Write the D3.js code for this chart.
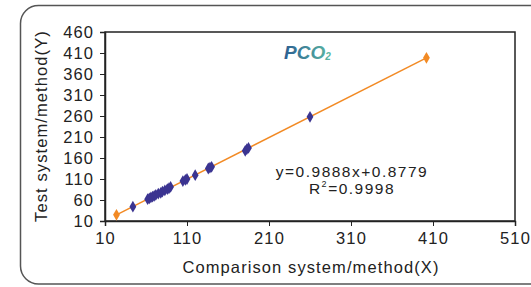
<!DOCTYPE html>
<html>
<head>
<meta charset="utf-8">
<script src="https://cdn.jsdelivr.net/npm/d3@7"></script>
<style>
  html, body { margin: 0; padding: 0; background: #fff; }
  svg { display: block; font-family: "Liberation Sans", Arial, sans-serif; }
</style>
</head>
<body>
<div id="chart"></div>
<script>
// data
const xValues = [44, 62, 64, 66, 68, 70, 72, 75, 78, 80, 83, 86, 88, 90, 105, 108, 110, 120, 136, 138, 140, 181, 183, 185, 260];
const yValues = [44, 62, 64, 66, 68, 70, 72, 75, 77, 80, 83, 86, 88, 91, 105, 108, 110, 119, 135, 137, 139, 177, 181, 184, 258];
const fitX = [24, 402];
const fitY = [24.6, 398.4];
const tickValues = [10, 110, 210, 310, 410, 510];
const yTickValues = [10, 60, 110, 160, 210, 260, 310, 360, 410, 460];

const width = 531, height = 287;
const plotLeft = 105, plotRight = 515, plotTop = 32, plotBottom = 221;
const fontSize = 16.5, spacing = "1.1px";

const svg = d3.select("#chart").append("svg")
  .attr("width", width)
  .attr("height", height);

// outer rounded panel
svg.append("rect")
  .attr("x", 20.5).attr("y", 5.5)
  .attr("width", 560).attr("height", 278.5)
  .attr("rx", 18)
  .attr("fill", "none")
  .attr("stroke", "#555")
  .attr("stroke-width", 1.5);

const x = d3.scaleLinear().domain([10, 510]).range([plotLeft, plotRight]);
const y = d3.scaleLinear().domain([10, 460]).range([plotBottom, plotTop]);

// frame
svg.append("rect")
  .attr("x", plotLeft).attr("y", plotTop)
  .attr("width", plotRight - plotLeft).attr("height", plotBottom - plotTop)
  .attr("fill", "none")
  .attr("stroke", "#222")
  .attr("stroke-width", 1.5);

const xAxis = svg.append("g")
  .attr("transform", `translate(0,${plotBottom})`)
  .call(d3.axisBottom(x).tickValues(tickValues).tickSize(5).tickPadding(6));
const yAxis = svg.append("g")
  .attr("transform", `translate(${plotLeft},0)`)
  .call(d3.axisLeft(y).tickValues(yTickValues).tickSize(5).tickPadding(6));

[xAxis, yAxis].forEach(g => {
  g.select(".domain").attr("stroke", "#222").attr("stroke-width", 1.5);
  g.selectAll(".tick line").attr("stroke", "#222");
  g.selectAll("text").attr("font-size", fontSize).attr("fill", "#222")
    .attr("letter-spacing", spacing)
    .attr("font-family", "'Liberation Sans', Arial, sans-serif");
});
yAxis.selectAll("text").attr("dy", "0.36em");

// axis titles
svg.append("text")
  .attr("x", 311).attr("y", 273)
  .attr("text-anchor", "middle")
  .attr("font-size", fontSize).attr("letter-spacing", spacing).attr("fill", "#222")
  .text("Comparison system/method(X)");
svg.append("text")
  .attr("transform", "translate(47,126) rotate(-90)")
  .attr("text-anchor", "middle")
  .attr("font-size", fontSize).attr("letter-spacing", spacing).attr("fill", "#222")
  .text("Test system/method(Y)");

// regression line
const line = d3.line().x(d => x(d[0])).y(d => y(d[1]));
const fit = d3.zip(fitX, fitY);
svg.append("path")
  .attr("d", line(fit))
  .attr("fill", "none")
  .attr("stroke", "#f28a24")
  .attr("stroke-width", 1.5);

const diamond = d3.symbol().type(d3.symbolDiamond).size(40);

svg.selectAll(".fitpt")
  .data(fit)
  .enter()
  .append("path")
  .attr("class", "fitpt")
  .attr("transform", d => `translate(${x(d[0])},${y(d[1])})`)
  .attr("d", diamond)
  .attr("fill", "#f28a24");

svg.selectAll(".pt")
  .data(d3.zip(xValues, yValues))
  .enter()
  .append("path")
  .attr("class", "pt")
  .attr("transform", d => `translate(${x(d[0])},${y(d[1])})`)
  .attr("d", diamond)
  .attr("fill", "#3b3491");

// title with gradient
const grad = svg.append("defs").append("linearGradient")
  .attr("id", "tg").attr("x1", "0").attr("x2", "1").attr("y1", "0").attr("y2", "0");
grad.append("stop").attr("offset", "0%").attr("stop-color", "#2c5f92");
grad.append("stop").attr("offset", "100%").attr("stop-color", "#5bb8a2");

const title = svg.append("text")
  .attr("x", 284).attr("y", 59)
  .attr("font-size", 19)
  .attr("font-weight", "bold")
  .attr("font-style", "italic")
  .attr("fill", "url(#tg)");
title.append("tspan").text("PCO");
title.append("tspan").attr("font-size", 10).attr("dy", 1).text("2");

// equation
svg.append("text")
  .attr("x", 352).attr("y", 177)
  .attr("text-anchor", "middle")
  .attr("font-size", 15.5).attr("letter-spacing", "1.5px").attr("fill", "#222")
  .text("y=0.9888x+0.8779");
const r2 = svg.append("text")
  .attr("x", 352).attr("y", 194)
  .attr("text-anchor", "middle")
  .attr("font-size", 15.5).attr("letter-spacing", "1.5px").attr("fill", "#222");
r2.append("tspan").text("R");
r2.append("tspan").attr("font-size", 9).attr("dy", -7).text("2");
r2.append("tspan").attr("dy", 7).text("=0.9998");
</script>
</body>
</html>
